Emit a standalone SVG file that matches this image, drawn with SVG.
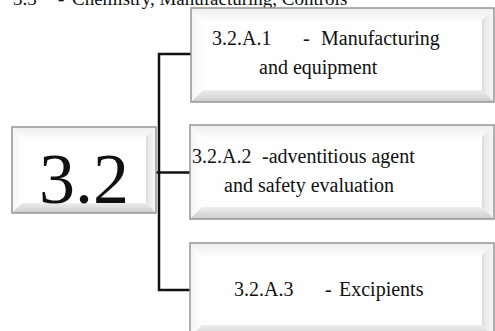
<svg xmlns="http://www.w3.org/2000/svg" width="495" height="331" viewBox="0 0 495 331">
  <defs>
    <linearGradient id="bevRight" x1="0" y1="0" x2="1" y2="0">
      <stop offset="0" stop-color="#d9d9d9"/>
      <stop offset="0.3" stop-color="#ebebeb"/>
      <stop offset="1" stop-color="#f8f8f8"/>
    </linearGradient>
    <linearGradient id="bevBottom" x1="0" y1="0" x2="0" y2="1">
      <stop offset="0" stop-color="#eeeeee"/>
      <stop offset="1" stop-color="#cbcbcb"/>
    </linearGradient>
    <linearGradient id="bevLeft" x1="0" y1="0" x2="1" y2="0">
      <stop offset="0" stop-color="#f3f3f3"/>
      <stop offset="1" stop-color="#ffffff"/>
    </linearGradient>
    <linearGradient id="bevTop" x1="0" y1="0" x2="0" y2="1">
      <stop offset="0" stop-color="#eeeeee"/>
      <stop offset="1" stop-color="#fafafa"/>
    </linearGradient>
  </defs>
  <style>
    .face { fill: #fefefe; }
    .bt { fill: url(#bevTop); }
    .bb { fill: url(#bevBottom); }
    .bl { fill: url(#bevLeft); }
    .br { fill: url(#bevRight); }
    .frame { fill: none; stroke: #959595; stroke-width: 1.5; }
    .lbl { font-family: "Liberation Serif", "Times New Roman", serif; font-size: 20px; fill: #111; }
    .head { font-family: "Liberation Serif", "Times New Roman", serif; font-size: 19px; fill: #111; }
    .big { font-family: "Liberation Serif", "Times New Roman", serif; font-size: 72px; fill: #111; }
    .conn { fill: none; stroke: #111; stroke-width: 2.5; }
  </style>
  <rect width="495" height="331" fill="#ffffff"/>

  <!-- heading, clipped by the top edge -->
  <text class="head" y="4.5"><tspan x="13">3.3</tspan><tspan x="58">-</tspan><tspan x="72">Chemistry, Manufacturing, Controls</tspan></text>

  <!-- connectors -->
  <g id="connectors">
    <path class="conn" d="M191,54 H159 V290 H190"/>
    <path class="conn" d="M156,172.5 H190"/>
  </g>

  <!-- root node -->
  <g id="node-3-2">
    <rect class="face" x="12" y="127" width="144" height="86"/>
    <polygon class="bt" points="12,127 156,127 146,137 22,137"/>
    <polygon class="bl" points="12,127 22,137 22,203 12,213"/>
    <polygon class="br" points="156,127 146,137 146,203 156,213"/>
    <polygon class="bb" points="12,213 156,213 146,203 22,203"/>
    <rect class="frame" x="12" y="127" width="144" height="86"/>
    <text class="big" x="84" y="203" text-anchor="middle">3.2</text>
  </g>

  <!-- 3.2.A.1 -->
  <g id="node-3-2-A-1">
    <rect class="face" x="191" y="8" width="303" height="94"/>
    <polygon class="bt" points="191,8 494,8 482,20 203,20"/>
    <polygon class="bl" points="191,8 203,20 203,90 191,102"/>
    <polygon class="br" points="494,8 482,20 482,90 494,102"/>
    <polygon class="bb" points="191,102 494,102 482,90 203,90"/>
    <rect class="frame" x="191" y="8" width="303" height="94"/>
    <text class="lbl" y="45"><tspan x="212">3.2.A.1</tspan><tspan x="303">-</tspan><tspan x="321">Manufacturing</tspan></text>
    <text class="lbl" x="259" y="74">and equipment</text>
  </g>

  <!-- 3.2.A.2 -->
  <g id="node-3-2-A-2">
    <rect class="face" x="190" y="125" width="304" height="94"/>
    <polygon class="bt" points="190,125 494,125 482,137 202,137"/>
    <polygon class="bl" points="190,125 202,137 202,207 190,219"/>
    <polygon class="br" points="494,125 482,137 482,207 494,219"/>
    <polygon class="bb" points="190,219 494,219 482,207 202,207"/>
    <rect class="frame" x="190" y="125" width="304" height="94"/>
    <text class="lbl" y="163"><tspan x="192">3.2.A.2</tspan><tspan x="262">-adventitious agent</tspan></text>
    <text class="lbl" x="224" y="192">and safety evaluation</text>
  </g>

  <!-- 3.2.A.3 -->
  <g id="node-3-2-A-3">
    <rect class="face" x="190" y="243" width="304" height="94"/>
    <polygon class="bt" points="190,243 494,243 482,255 202,255"/>
    <polygon class="bl" points="190,243 202,255 202,325 190,337"/>
    <polygon class="br" points="494,243 482,255 482,325 494,337"/>
    <polygon class="bb" points="190,337 494,337 482,325 202,325"/>
    <rect class="frame" x="190" y="243" width="304" height="94"/>
    <text class="lbl" y="296"><tspan x="234">3.2.A.3</tspan><tspan x="325">-</tspan><tspan x="339">Excipients</tspan></text>
  </g>
</svg>
